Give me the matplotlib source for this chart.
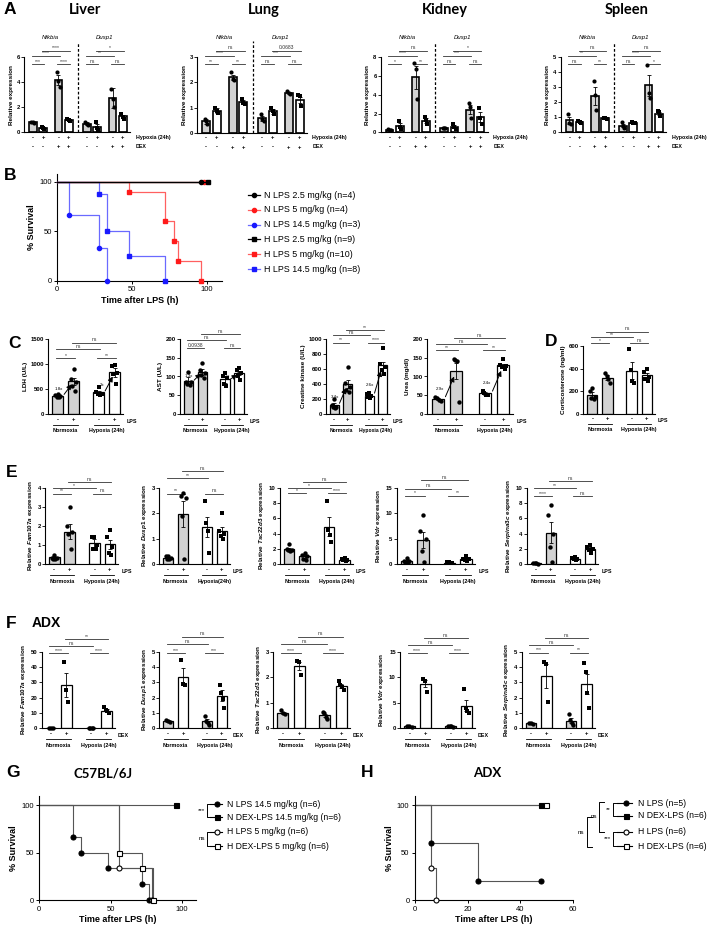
import matplotlib
matplotlib.use('Agg')
import matplotlib.pyplot as plt
import numpy as np
from matplotlib.transforms import blended_transform_factory as blend

plt.rcParams['font.family'] = ['Liberation Sans', 'DejaVu Sans']
plt.rcParams['mathtext.fontset'] = 'custom'
plt.rcParams['mathtext.it'] = 'Liberation Sans:italic:bold'
plt.rcParams['mathtext.rm'] = 'Liberation Sans:bold'
plt.rcParams['axes.linewidth'] = 0.8

# ---------------- data ----------------
# A: Nfkbia (4 bars) | Dusp1 (4 bars)
a_hyp = ['-', '+', '-', '+', '-', '+', '-', '+']
a_dex = ['-', '-', '+', '+', '-', '-', '+', '+']
a_genes = ['Nfkbia', 'Dusp1']

liver_mean = [0.8, 0.35, 4.15, 0.97, 0.7, 0.45, 2.75, 1.27]
liver_sem = [0.05, 0.05, 0.4, 0.08, 0.1, 0.2, 0.8, 0.15]
liver_pts = [[0.85, 0.8, 0.75], [0.4, 0.35, 0.3], [4.8, 4.1, 3.6], [1.05, 0.95, 0.9],
             [0.8, 0.7, 0.6], [0.85, 0.35, 0.2], [3.5, 2.7, 2.0], [1.5, 1.25, 1.1]]
liver_sig = ['***', '****', '****', '****', 'ns', 'ns', '**', '*']

lung_mean = [0.45, 0.88, 2.2, 1.22, 0.58, 0.85, 1.58, 1.32]
lung_sem = [0.1, 0.1, 0.1, 0.08, 0.1, 0.1, 0.04, 0.12]
lung_pts = [[0.55, 0.45, 0.35], [1.0, 0.85, 0.8], [2.4, 2.15, 2.1], [1.35, 1.2, 1.15],
            [0.75, 0.55, 0.45], [1.0, 0.85, 0.75], [1.65, 1.58, 1.55], [1.5, 1.45, 1.05]]
lung_sig = ['**', '**', '****', 'ns', 'ns', 'ns', '***', '0.0683']

kidney_mean = [0.25, 0.7, 5.85, 1.25, 0.5, 0.6, 2.4, 1.65]
kidney_sem = [0.03, 0.25, 1.2, 0.25, 0.05, 0.15, 0.5, 0.5]
kidney_pts = [[0.3, 0.25, 0.2], [1.2, 0.6, 0.4], [7.4, 6.7, 3.5], [1.6, 1.3, 0.9],
              [0.5, 0.5, 0.45], [0.9, 0.6, 0.4], [3.1, 2.7, 1.5], [2.6, 1.5, 0.9]]
kidney_sig = ['*', '**', '****', 'ns', 'ns', 'ns', '***', '*']

spleen_mean = [0.8, 0.7, 2.45, 0.92, 0.45, 0.65, 3.15, 1.25]
spleen_sem = [0.25, 0.05, 0.6, 0.02, 0.1, 0.04, 0.7, 0.12]
spleen_pts = [[1.25, 0.6, 0.55], [0.75, 0.7, 0.65], [3.4, 2.5, 1.5], [0.95, 0.92, 0.9],
              [0.7, 0.45, 0.3], [0.7, 0.65, 0.6], [4.5, 2.6, 2.3], [1.4, 1.35, 1.1]]
spleen_sig = ['ns', '**', '**', 'ns', 'ns', '*', '****', 'ns']

# B: survival (hours, % survival)
b_labels = ['N LPS 2.5 mg/kg (n=4)', 'N LPS 5 mg/kg (n=4)', 'N LPS 14.5 mg/kg (n=3)',
            'H LPS 2.5 mg/kg (n=9)', 'H LPS 5 mg/kg (n=10)', 'H LPS 14.5 mg/kg (n=8)']
b_times = [[0, 96], [0, 98], [0, 8, 28, 33], [0, 101], [0, 48, 72, 78, 81, 96], [0, 28, 33, 48, 72]]
b_surv = [[100, 100], [100, 100], [100, 66.7, 33.3, 0], [100, 100],
          [100, 90, 60, 40, 20, 0], [100, 87.5, 50, 25, 0]]

# C / D: serum markers (N-, N+, H-, H+)
c_signs = ['-', '+', '-', '+']
c_groups = ['Normoxia', 'Hypoxia (24h)']

ldh_mean = [370, 650, 430, 830]
ldh_sem = [25, 65, 35, 90]
ldh_pts = [[400, 390, 370, 350, 340], [900, 700, 640, 560, 450], [530, 440, 410, 400, 380],
           [970, 960, 820, 800, 600]]
ldh_sig = ['*', '**', 'ns', 'ns']
ldh_fold = ['1.8x', '2x']

ast_mean = [88, 113, 92, 108]
ast_sem = [10, 8, 9, 5]
ast_pts = [[112, 85, 85, 80, 78], [135, 118, 110, 105, 97], [110, 100, 95, 80, 75],
           [122, 118, 110, 100, 90]]
ast_sig = ['0.0938', 'ns', 'ns', 'ns']
ast_fold = ['1.3x', '1.2x']

ck_mean = [120, 400, 245, 655]
ck_sem = [30, 55, 15, 40]
ck_pts = [[200, 120, 100, 95, 85], [620, 410, 360, 320, 290], [280, 260, 240, 230, 215],
          [880, 660, 620, 580, 535]]
ck_sig = ['**', '****', 'ns', '**']
ck_fold = ['3.4x', '2.6x']

urea_mean = [40, 115, 55, 130]
urea_sem = [3, 22, 4, 3]
urea_pts = [[45, 42, 38, 36], [146, 143, 140, 31], [62, 56, 52, 50], [147, 130, 127, 125, 121]]
urea_sig = ['**', '**', 'ns', 'ns']
urea_fold = ['2.9x', '2.4x']

cort_mean = [170, 320, 380, 340]
cort_sem = [25, 20, 75, 25]
cort_pts = [[230, 200, 150, 140, 130], [360, 335, 310, 275], [570, 385, 290, 275],
            [400, 370, 330, 310, 290]]
cort_sig = ['*', 'ns', '**', 'ns']

# E: LPS-induced genes
e_fam_mean = [0.35, 1.7, 1.08, 1.03]
e_fam_sem = [0.08, 0.4, 0.25, 0.25]
e_fam_pts = [[0.5, 0.3, 0.3, 0.28, 0.25], [3.0, 2.0, 1.7, 1.6, 0.8], [1.4, 1.4, 1.0, 0.8, 0.8],
             [1.8, 1.4, 0.9, 0.6, 0.45]]
e_fam_sig = ['**', 'ns', '*', 'ns']

e_dusp_mean = [0.25, 1.97, 1.45, 1.32]
e_dusp_sem = [0.03, 0.5, 0.4, 0.15]
e_dusp_pts = [[0.3, 0.3, 0.25, 0.2, 0.2], [2.8, 2.7, 2.6, 1.9, 0.2], [2.5, 1.6, 1.3, 0.45],
              [2.0, 1.3, 1.2, 1.1, 1.0]]
e_dusp_sig = ['**', 'ns', '**', 'ns']

e_tsc_mean = [2.0, 1.0, 4.9, 0.55]
e_tsc_sem = [0.15, 0.2, 1.25, 0.08]
e_tsc_pts = [[2.6, 2.0, 1.9, 1.8, 1.7], [1.5, 1.2, 1.0, 0.7, 0.5], [8.3, 4.5, 3.8, 2.9],
             [0.8, 0.6, 0.5, 0.5, 0.4]]
e_tsc_sig = ['*', '****', '*', 'ns']

e_vdr_mean = [0.6, 4.8, 0.25, 0.9]
e_vdr_sem = [0.15, 1.6, 0.05, 0.15]
e_vdr_pts = [[1.2, 0.6, 0.5, 0.4, 0.3], [9.7, 6.5, 5.0, 2.5, 0.3], [0.4, 0.3, 0.2, 0.2, 0.1],
             [1.5, 1.0, 0.9, 0.7, 0.6]]
e_vdr_sig = ['*', '**', 'ns', 'ns']

e_serp_mean = [0.1, 4.1, 0.7, 2.0]
e_serp_sem = [0.02, 1.4, 0.08, 0.2]
e_serp_pts = [[0.15, 0.1, 0.1, 0.05], [7.7, 6.5, 4.0, 2.2, 0.3], [0.9, 0.8, 0.7, 0.6, 0.5],
              [2.5, 2.2, 2.0, 1.9, 1.5]]
e_serp_sig = ['****', 'ns', '**', 'ns']

# F: ADX + DEX
f_fam_mean = [0.2, 28.5, 0.2, 11.5]
f_fam_sem = [0.05, 8, 0.05, 1.0]
f_fam_pts = [[0.2, 0.2, 0.2], [43.5, 25, 17], [0.2, 0.2, 0.2, 0.2], [13.5, 12, 11, 10]]
f_fam_sig = ['****', '****', 'ns', '**']

f_dusp_mean = [0.45, 3.37, 0.45, 2.12]
f_dusp_sem = [0.05, 0.55, 0.15, 0.35]
f_dusp_pts = [[0.55, 0.45, 0.4], [4.5, 2.9, 2.8], [0.8, 0.45, 0.3, 0.2], [2.85, 2.3, 1.9, 1.3]]
f_dusp_sig = ['***', '***', 'ns', 'ns']

f_tsc_mean = [0.6, 2.45, 0.5, 1.65]
f_tsc_sem = [0.05, 0.17, 0.07, 0.08]
f_tsc_pts = [[0.7, 0.6, 0.55], [2.65, 2.6, 2.1], [0.65, 0.6, 0.45, 0.35], [1.85, 1.7, 1.6, 1.5]]
f_tsc_sig = ['****', '****', 'ns', 'ns']

f_vdr_mean = [0.3, 8.7, 0.3, 4.4]
f_vdr_sem = [0.05, 0.7, 0.05, 1.1]
f_vdr_pts = [[0.4, 0.3, 0.2], [9.7, 9.3, 7.2], [0.4, 0.35, 0.3, 0.2], [7.6, 4.0, 3.3, 3.0]]
f_vdr_sig = ['****', '****', 'ns', 'ns']

f_serp_mean = [0.3, 3.4, 0.48, 2.9]
f_serp_sem = [0.03, 0.8, 0.17, 0.65]
f_serp_pts = [[0.35, 0.32, 0.25], [4.35, 4.2, 1.7], [0.95, 0.5, 0.3, 0.2], [4.3, 3.7, 2.3, 1.3]]
f_serp_sig = ['***', '**', 'ns', 'ns']

# G / H: survival
g_labels = ['N LPS 14.5 mg/kg (n=6)', 'N DEX-LPS 14.5 mg/kg (n=6)',
            'H LPS 5 mg/kg (n=6)', 'H DEX-LPS 5 mg/kg (n=6)']
g_times = [[0, 24, 29, 48, 72, 77], [0, 96], [0, 56, 79], [0, 56, 72, 80]]
g_surv = [[100, 66.7, 50, 33.3, 16.7, 0], [100, 100], [100, 33.3, 0], [100, 50, 33.3, 0]]

h_labels = ['N LPS (n=5)', 'N DEX-LPS (n=6)', 'H LPS (n=6)', 'H DEX-LPS (n=6)']
h_times = [[0, 6, 24, 48], [0, 48], [0, 6, 8], [0, 50]]
h_surv = [[100, 60, 20, 20], [100, 100], [100, 33.3, 0], [100, 100]]

# ---------------- figure helpers ----------------
W, H = 709, 930
fig = plt.figure(figsize=(W / 100, H / 100), dpi=100)

ov = fig.add_axes([0, 0, 1, 1], zorder=-1)
ov.set_xlim(0, W)
ov.set_ylim(H, 0)
ov.axis('off')

GRAY = '#d2d2d2'
BRK = '#333333'


def px_axes(left, top, right, bottom):
    ax = fig.add_axes([left / W, 1 - bottom / H, (right - left) / W, (bottom - top) / H])
    ax.set_facecolor('none')
    return ax


def clean(ax, ylim, yticks, fs=4.3):
    ax.spines[['top', 'right']].set_visible(False)
    ax.set_ylim(*ylim)
    ax.set_yticks(yticks)
    ax.set_xticks([])
    ax.tick_params(axis='y', length=2, width=0.6, labelsize=fs, pad=1)
    for t in ax.get_yticklabels():
        t.set_fontweight('bold')


JIT = {3: [-0.13, 0.0, 0.13], 4: [-0.15, -0.05, 0.05, 0.15],
       5: [0.0, -0.17, 0.17, -0.08, 0.08]}


def bars(ax, xs, means, sems, pts, fills, marks, bw, ms, elw=0.9):
    ax.bar(xs, means, width=bw, color=fills, edgecolor='black', linewidth=elw, zorder=2)
    ax.errorbar(xs, means, yerr=sems, fmt='none', ecolor='black', elinewidth=0.6,
                capsize=1.5, capthick=0.6, zorder=3)
    for x, vals, m in zip(xs, pts, marks):
        offs = np.array(JIT[len(vals)])
        ax.scatter(x + offs, vals, s=ms, marker=m, color='black', linewidths=0,
                   zorder=4, clip_on=False)


def bracket(ax, x1, x2, yf, txt, fs=3.6, color=BRK):
    tr = blend(ax.transData, ax.transAxes)
    ax.plot([x1, x2], [yf, yf], transform=tr, color=color, lw=0.6, clip_on=False)
    ax.text((x1 + x2) / 2, yf + 0.005, txt, transform=tr, ha='center', va='bottom',
            fontsize=fs, color=color, clip_on=False)


def fold_arrow(ax, x1, x2, m1, m2, label):
    lo = m1 + 0.08 * (m2 - m1)
    hi = m1 + 0.8 * (m2 - m1)
    ax.annotate('', xy=(x2 - 0.12, hi), xytext=(x1 + 0.4, lo),
                arrowprops=dict(arrowstyle='-|>,head_length=0.3,head_width=0.15', lw=0.7,
                                color='black', shrinkA=0, shrinkB=0), zorder=5)
    ax.text(x1 + 0.35, lo + 0.3 * (hi - lo), label, ha='right', va='bottom', fontsize=3.2,
            zorder=5)


# ---------------- panel A ----------------
a_x = [0, 1, 2.5, 3.5, 5.25, 6.25, 7.75, 8.75]
a_fill = [GRAY, 'white'] * 4
a_mark = ['o', 's'] * 4
a_specs = [
    ('Liver', (24, 57.3, 130, 132.3), liver_mean, liver_sem, liver_pts, liver_sig, 6, [0, 2, 4, 6], 85),
    ('Lung', (197, 57.3, 307, 132.7), lung_mean, lung_sem, lung_pts, lung_sig, 3, [0, 1, 2, 3], 264),
    ('Kidney', (380.7, 57.3, 487.7, 132.3), kidney_mean, kidney_sem, kidney_pts, kidney_sig, 8,
     [0, 2, 4, 6, 8], 445),
    ('Spleen', (560.7, 57.3, 666, 132.3), spleen_mean, spleen_sem, spleen_pts, spleen_sig, 5,
     [0, 1, 2, 3, 4, 5], 627),
]
for title, box, mean, sem, pts, sig, ymax, yt, tx in a_specs:
    ax = px_axes(*box)
    bars(ax, a_x, mean, sem, pts, a_fill, a_mark, 0.75, 9, elw=1.2)
    ax.set_xlim(-0.85, 9.45)
    clean(ax, (0, ymax), yt, fs=4.2)
    ax.set_ylabel('Relative expression', fontsize=4.6, fontweight='bold', labelpad=2)
    tr = blend(ax.transData, ax.transAxes)
    ax.plot([4.375, 4.375], [0, 1.21], transform=tr, color='black', lw=0.9, ls=(0, (2.2, 1.6)),
            clip_on=False)
    for g in range(2):
        i = 4 * g
        xs = a_x[i:i + 4]
        s = sig[i:i + 4]
        bracket(ax, xs[0] - 0.1, xs[1] + 0.1, 0.91, s[0])
        bracket(ax, xs[2] - 0.1, xs[3] + 0.1, 0.91, s[1])
        bracket(ax, xs[0] - 0.1, xs[2] + 0.1, 1.02, s[2])
        bracket(ax, xs[1] - 0.1, xs[3] + 0.1, 1.09, s[3])
        ax.text((xs[0] + xs[3]) / 2, 1.26, a_genes[g], transform=tr, ha='center', va='center',
                fontsize=4.3, style='italic', clip_on=False)
    for x, h1, d1 in zip(a_x, a_hyp, a_dex):
        ax.text(x, -0.07, h1, transform=tr, ha='center', va='center', fontsize=4.2,
                fontweight='bold', clip_on=False)
        ax.text(x, -0.19, d1, transform=tr, ha='center', va='center', fontsize=4.2,
                fontweight='bold', clip_on=False)
    right_px = box[2] + 5.5
    ov.text(right_px, box[3] + 5.2, 'Hypoxia (24h)', ha='left', va='center',
            fontsize=3.8, fontweight='bold')
    ov.text(right_px, box[3] + 14.2, 'DEX', ha='left', va='center',
            fontsize=3.8, fontweight='bold')
    ov.text(tx, 10, title, ha='center', va='center', fontsize=10.5, fontweight='bold',
            family=['Lato', 'DejaVu Sans'])

# ---------------- panel B ----------------
axb = px_axes(57.3, 174.1, 221.6, 280.7)
axb.spines[['top', 'right']].set_visible(False)
b_color = ['black', '#ff1a1a', '#1a1aff', 'black', '#ff1a1a', '#1a1aff']
b_line = ['black', '#ff6060', '#6a6aff', 'black', '#ff6060', '#6a6aff']
b_mark = ['o', 'o', 'o', 's', 's', 's']
b_z = [6, 3, 3, 6, 4, 4]
for t, s, c, lc, m, z in zip(b_times, b_surv, b_color, b_line, b_mark, b_z):
    axb.step(t, s, where='post', color=lc, lw=0.9, zorder=z, clip_on=False)
    axb.plot(t[1:], s[1:], ls='none', marker=m, ms=3.0, color=c, zorder=z + 1, clip_on=False)
axb.set_xlim(0, 110)
axb.set_ylim(0, 108)
axb.set_xticks([0, 50, 100])
axb.set_yticks([0, 50, 100])
axb.tick_params(length=2.5, width=0.7, labelsize=5.5, pad=1.5)
axb.set_xlabel('Time after LPS (h)', fontsize=6.5, fontweight='bold', labelpad=2)
axb.set_ylabel('% Survival', fontsize=6.5, fontweight='bold', labelpad=2)
for i, (lab, c, lc, m) in enumerate(zip(b_labels, b_color, b_line, b_mark)):
    y = 195 + i * 14.8
    ov.plot([248.3, 260], [y, y], color=lc, lw=0.9)
    ov.plot([254], [y], marker=m, ms=3.0, color=c)
    ov.text(264.3, y, lab, ha='left', va='center', fontsize=6.4)

# ---------------- panels C / D / E / F (4-bar layout) ----------------
q_x = [0, 1, 2.6, 3.6]


def four_bar(box, mean, sem, pts, sig, ymax, yt, ylabel, rows, fills, marks, treat,
             groups=c_groups, fold=None, gfs=3.9):
    ax = px_axes(*box)
    bars(ax, q_x, mean, sem, pts, fills, marks, 0.68, 10)
    ax.set_xlim(-0.6, 4.15)
    clean(ax, (0, ymax), yt)
    ax.set_ylabel(ylabel, fontsize=4.6, fontweight='bold', labelpad=2)
    r1, r2, r3 = rows
    bracket(ax, q_x[0] - 0.1, q_x[1] + 0.1, r1, sig[0])
    bracket(ax, q_x[2] - 0.1, q_x[3] + 0.1, r1, sig[1])
    bracket(ax, q_x[0] - 0.1, q_x[2] + 0.1, r2, sig[2])
    bracket(ax, q_x[1] - 0.1, q_x[3] + 0.1, r3, sig[3])
    tr = blend(ax.transData, ax.transAxes)
    for x, s in zip(q_x, c_signs):
        ax.text(x, -0.07, s, transform=tr, ha='center', va='center', fontsize=4.2,
                fontweight='bold', clip_on=False)
    for (a, b), g in zip([(0, 1), (2, 3)], groups):
        ax.plot([q_x[a] - 0.3, q_x[b] + 0.3], [-0.15, -0.15], transform=tr, color='black',
                lw=0.6, clip_on=False)
        ax.text((q_x[a] + q_x[b]) / 2, -0.225, g, transform=tr, ha='center', va='center',
                fontsize=gfs, fontweight='bold', clip_on=False)
    ax.text(1.04, -0.1, treat, transform=ax.transAxes, ha='left', va='center', fontsize=3.9,
            fontweight='bold', clip_on=False)
    if fold:
        fold_arrow(ax, q_x[0], q_x[1], mean[0], mean[1], fold[0])
        fold_arrow(ax, q_x[2], q_x[3], mean[2], mean[3], fold[1])
    return ax


nh_fill = [GRAY, GRAY, 'white', 'white']
nh_mark = ['o', 'o', 's', 's']
dex_fill = [GRAY, 'white', GRAY, 'white']
dex_mark = ['o', 's', 'o', 's']

four_bar((48.3, 339, 123.3, 414), ldh_mean, ldh_sem, ldh_pts, ldh_sig, 1500,
         [0, 500, 1000, 1500], 'LDH (U/L)', (0.74, 0.86, 0.95), nh_fill, nh_mark, 'LPS',
         fold=ldh_fold)
four_bar((180, 339, 246.7, 414), ast_mean, ast_sem, ast_pts, ast_sig, 200,
         [0, 50, 100, 150, 200], 'AST (U/L)', (0.88, 0.98, 1.06), nh_fill, nh_mark, 'LPS',
         fold=ast_fold)
four_bar((326, 339, 390, 414), ck_mean, ck_sem, ck_pts, ck_sig, 1000,
         [0, 200, 400, 600, 800, 1000], 'Creatine kinase (U/L)', (0.95, 1.05, 1.12),
         nh_fill, nh_mark, 'LPS', fold=ck_fold, gfs=3.6)
four_bar((427.3, 339, 513.3, 414), urea_mean, urea_sem, urea_pts, urea_sig, 200,
         [0, 50, 100, 150, 200], 'Urea (mg/dl)', (0.85, 0.93, 1.01), nh_fill, nh_mark, 'LPS',
         fold=urea_fold)
four_bar((583.3, 346, 655, 414), cort_mean, cort_sem, cort_pts, cort_sig, 600,
         [0, 200, 400, 600], 'Corticosterone (ng/ml)', (1.04, 1.13, 1.21), nh_fill, nh_mark,
         'LPS')

four_bar((45, 488, 118.3, 564), e_fam_mean, e_fam_sem, e_fam_pts, e_fam_sig, 4,
         [0, 1, 2, 3, 4], r'Relative $\it{Fam107a}$ expression', (0.926, 1.0, 1.08),
         nh_fill, nh_mark, 'LPS')
four_bar((159.3, 488, 230, 564), e_dusp_mean, e_dusp_sem, e_dusp_pts, e_dusp_sig, 3,
         [0, 1, 2, 3], r'Relative $\it{Dusp1}$ expression', (0.926, 1.13, 1.22),
         nh_fill, nh_mark, 'LPS', groups=['Normoxia', 'Hypoxia(24h)'])
four_bar((280, 488, 353, 564), e_tsc_mean, e_tsc_sem, e_tsc_pts, e_tsc_sig, 10,
         [0, 2, 4, 6, 8, 10], r'Relative $\it{Tsc22d3}$ expression', (0.93, 1.0, 1.08),
         nh_fill, nh_mark, 'LPS')
four_bar((396.7, 488, 475, 564), e_vdr_mean, e_vdr_sem, e_vdr_pts, e_vdr_sig, 15,
         [0, 5, 10, 15], r'Relative $\it{Vdr}$ expression', (0.9, 0.99, 1.1),
         nh_fill, nh_mark, 'LPS')
four_bar((526.7, 488, 598.3, 564), e_serp_mean, e_serp_sem, e_serp_pts, e_serp_sig, 10,
         [0, 2, 4, 6, 8, 10], r'Relative $\it{Serpina3c}$ expression', (0.89, 1.0, 1.09),
         nh_fill, nh_mark, 'LPS')

four_bar((41.7, 652, 115, 728), f_fam_mean, f_fam_sem, f_fam_pts, f_fam_sig, 50,
         [0, 10, 20, 30, 40, 50], r'Relative $\it{Fam107a}$ expression', (0.987, 1.075, 1.17),
         dex_fill, dex_mark, 'DEX')
four_bar((159.3, 652, 230, 728), f_dusp_mean, f_dusp_sem, f_dusp_pts, f_dusp_sig, 5,
         [0, 1, 2, 3, 4, 5], r'Relative $\it{Dusp1}$ expression', (0.987, 1.1, 1.2),
         dex_fill, dex_mark, 'DEX')
four_bar((273.3, 652, 350, 728), f_tsc_mean, f_tsc_sem, f_tsc_pts, f_tsc_sig, 3,
         [0, 1, 2, 3], r'Relative $\it{Tsc22d3}$ expression', (0.987, 1.1, 1.2),
         dex_fill, dex_mark, 'DEX')
four_bar((400, 652, 475, 728), f_vdr_mean, f_vdr_sem, f_vdr_pts, f_vdr_sig, 15,
         [0, 5, 10, 15], r'Relative $\it{Vdr}$ expression', (0.987, 1.09, 1.18),
         dex_fill, dex_mark, 'DEX')
four_bar((521.7, 652, 595, 728), f_serp_mean, f_serp_sem, f_serp_pts, f_serp_sig, 5,
         [0, 1, 2, 3, 4, 5], r'Relative $\it{Serpina3c}$ expression', (0.99, 1.09, 1.18),
         dex_fill, dex_mark, 'DEX')

# ---------------- panels G / H ----------------
gh_mark = ['o', 's', 'o', 's']
gh_face = ['black', 'black', 'white', 'white']
LINE = '#555555'


def surv_panel(box, times, survs, xmax, xt):
    ax = px_axes(*box)
    ax.spines[['top', 'right']].set_visible(False)
    for t, s, m, f in zip(times, survs, gh_mark, gh_face):
        ax.step(t, s, where='post', color=LINE, lw=0.8, zorder=2, clip_on=False)
        ax.plot(t[1:], s[1:], ls='none', marker=m, ms=3.6, mfc=f, mec='black', mew=0.8,
                zorder=3, clip_on=False)
    ax.set_xlim(0, xmax)
    ax.set_ylim(0, 110)
    ax.set_xticks(xt)
    ax.set_yticks([0, 50, 100])
    ax.tick_params(length=2.5, width=0.7, labelsize=5.5, pad=1.5)
    ax.set_xlabel('Time after LPS (h)', fontsize=6.5, fontweight='bold', labelpad=2)
    ax.set_ylabel('% Survival', fontsize=6.5, fontweight='bold', labelpad=2)
    return ax


surv_panel((39.3, 795.5, 196, 900), g_times, g_surv, 110, [0, 50, 100])
surv_panel((415, 795.5, 572.7, 900), h_times, h_surv, 60, [0, 20, 40, 60])


def leg_rows(ys, labels, x0, x1, tx):
    for y, lab, m, f in zip(ys, labels, gh_mark, gh_face):
        ov.plot([x0, x1], [y, y], color='black', lw=0.8)
        ov.plot([(x0 + x1) / 2 + 1], [y], marker=m, ms=3.6, mfc=f, mec='black', mew=0.8)
        ov.text(tx, y, lab, ha='left', va='center', fontsize=6.2)


def leg_bracket(x, y1, y2, arm, txt, tx):
    ov.plot([x + arm, x, x, x + arm], [y1, y1, y2, y2], color='black', lw=0.7)
    ov.text(tx, (y1 + y2) / 2, txt, ha='right', va='center', fontsize=4.5)


g_ys = [804.3, 817.3, 831.7, 846]
leg_rows(g_ys, g_labels, 210, 222, 227)
leg_bracket(207.3, g_ys[0], g_ys[1], 3, '***', 205)
leg_bracket(207.3, g_ys[2], g_ys[3], 3, 'ns', 205)

h_ys = [803.3, 815.5, 831.7, 846]
leg_rows(h_ys, h_labels, 617, 632, 638)
leg_bracket(613.3, h_ys[0], h_ys[1], 4, '**', 611)
leg_bracket(613.3, h_ys[2], h_ys[3], 4, '***', 611)
leg_bracket(599.3, h_ys[0] - 1.5, h_ys[2], 5, 'ns', 597)
leg_bracket(586.5, h_ys[1] + 1.5, h_ys[3] + 1, 5, 'ns', 584)

# ---------------- titles and panel letters ----------------
letters = [('A', 4, 9), ('B', 4, 176), ('C', 8, 343), ('D', 545, 341), ('E', 6, 472),
           ('F', 6, 623), ('G', 6, 772), ('H', 361, 772)]
for lab, x, y in letters:
    ov.text(x, y, lab, ha='left', va='center', fontsize=12.5, fontweight='bold')
ov.text(32, 623, 'ADX', ha='left', va='center', fontsize=10, fontweight='bold')
ov.text(103, 773, 'C57BL/6J', ha='center', va='center', fontsize=9.5, fontweight='bold',
        family=['Lato', 'DejaVu Sans'])
ov.text(487, 773, 'ADX', ha='center', va='center', fontsize=9.5, fontweight='bold',
        family=['Lato', 'DejaVu Sans'])

fig.savefig('out.png', dpi=100, facecolor='white')
